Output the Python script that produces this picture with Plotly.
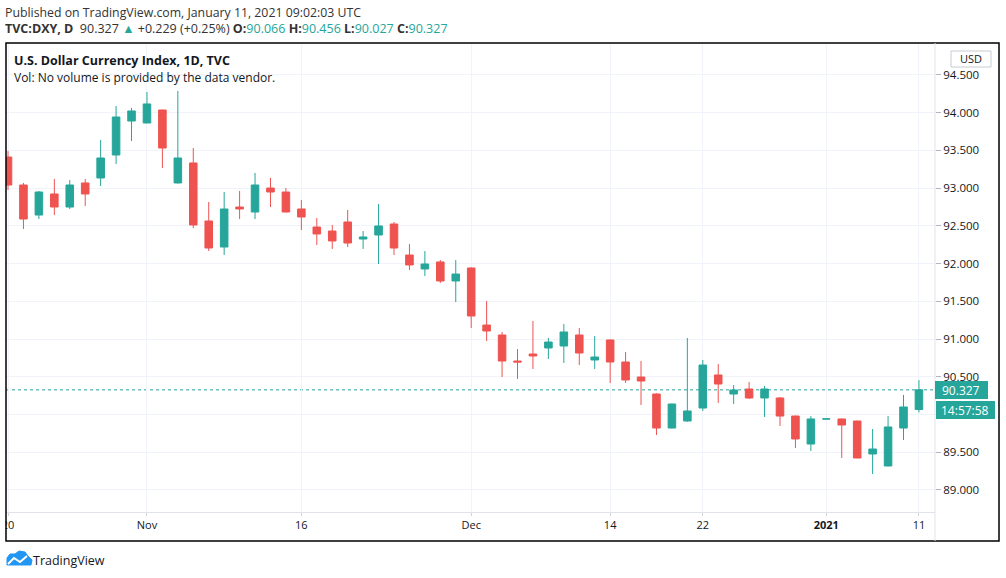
import pandas as pd
import plotly.graph_objects as go

# DXY daily candles, 20 Oct 2020 - 11 Jan 2021
dates = pd.bdate_range("2020-10-20", "2021-01-11").strftime("%Y-%m-%d").tolist()

opens = [93.413, 93.042, 92.644, 92.923, 92.750, 93.069, 93.135, 93.440, 93.890, 93.864,
         94.036, 93.069, 93.334, 92.565, 92.220, 92.750, 92.684, 93.002, 92.949, 92.724,
         92.485, 92.432, 92.552, 92.326, 92.379, 92.525, 92.114, 91.929, 92.022, 91.770,
         91.942, 91.186, 91.054, 90.709, 90.802, 90.882, 90.908, 91.054, 90.723, 90.988,
         90.696, 90.497, 90.272, 89.821, 89.914, 90.086, 90.524, 90.272, 90.338, 90.219,
         90.219, 89.980, 89.609, 89.941, 89.941, 89.914, 89.477, 89.318, 89.821, 90.066]
highs = [93.493, 93.069, 92.963, 93.122, 93.108, 93.122, 93.638, 94.089, 94.063, 94.275,
         94.040, 94.288, 93.532, 92.817, 92.949, 92.963, 93.201, 93.135, 93.002, 92.843,
         92.605, 92.512, 92.711, 92.432, 92.790, 92.552, 92.260, 92.167, 92.048, 92.048,
         91.950, 91.505, 91.094, 90.868, 91.240, 91.014, 91.200, 91.147, 91.041, 90.995,
         90.829, 90.709, 90.280, 90.145, 91.014, 90.723, 90.670, 90.391, 90.431, 90.378,
         90.232, 89.985, 89.980, 89.942, 89.945, 89.918, 89.808, 89.980, 90.259, 90.456]
lows = [92.976, 92.459, 92.591, 92.644, 92.724, 92.764, 93.029, 93.320, 93.625, 93.860,
        93.267, 93.060, 92.472, 92.167, 92.114, 92.591, 92.591, 92.750, 92.680, 92.446,
        92.247, 92.194, 92.220, 92.194, 91.995, 92.114, 91.915, 91.836, 91.743, 91.491,
        91.147, 90.974, 90.497, 90.471, 90.603, 90.736, 90.683, 90.656, 90.603, 90.418,
        90.418, 90.126, 89.729, 89.815, 89.905, 90.047, 90.153, 90.139, 90.206, 89.967,
        89.848, 89.556, 89.517, 89.941, 89.424, 89.420, 89.212, 89.312, 89.662, 90.027]
closes = [93.042, 92.591, 92.949, 92.750, 93.042, 92.923, 93.400, 93.943, 94.023, 94.116,
          93.532, 93.400, 92.512, 92.207, 92.724, 92.724, 93.042, 92.949, 92.684, 92.618,
          92.393, 92.300, 92.273, 92.353, 92.499, 92.207, 91.982, 91.995, 91.770, 91.862,
          91.306, 91.107, 90.709, 90.696, 90.776, 90.961, 91.094, 90.815, 90.762, 90.696,
          90.458, 90.444, 89.821, 90.139, 90.047, 90.656, 90.404, 90.325, 90.219, 90.338,
          89.980, 89.676, 89.941, 89.942, 89.861, 89.424, 89.543, 89.835, 90.100, 90.327]

tick_dates = ["2020-10-20", "2020-11-02", "2020-11-16", "2020-12-01",
              "2020-12-14", "2020-12-22", "2021-01-01", "2021-01-11"]
tick_text = ["20", "Nov", "16", "Dec", "14", "22", "<b>2021</b>", "11"]
price_ticks = [89.0, 89.5, 90.0, 90.5, 91.0, 91.5, 92.0, 92.5, 93.0, 93.5, 94.0, 94.5]
# 90.000 sits under the countdown label in the original, so its text is hidden
price_text = ["89.000", "89.500", "", "90.500", "91.000", "91.500", "92.000",
              "92.500", "93.000", "93.500", "94.000", "94.500"]

last_price = 90.327
countdown = "14:57:58"

UP = "#26a69a"
DOWN = "#ef5350"
TXT = "#131722"

W, H = 1006, 578
ML, MR, MT, MB = 6, 71, 43, 66
PW, PH = W - ML - MR, H - MT - MB


def px(x, y):
    # pixel -> paper coords
    return (x - ML) / PW, (H - MB - y) / PH


fig = go.Figure()
fig.add_trace(go.Candlestick(
    x=dates, open=opens, high=highs, low=lows, close=closes,
    increasing=dict(line=dict(color=UP, width=1), fillcolor=UP),
    decreasing=dict(line=dict(color=DOWN, width=1), fillcolor=DOWN),
    whiskerwidth=0, hoverinfo="skip", showlegend=False,
))

shapes = []
# last price dotted line
shapes.append(dict(type="line", xref="paper", yref="y", x0=0, x1=1,
                   y0=last_price, y1=last_price, layer="below",
                   line=dict(color=UP, width=1, dash="dot")))
# white strip left of the frame: the first date label is cut off there
wx0, wy0 = px(0, 540)
wx1, wy1 = px(5.5, 514)
shapes.append(dict(type="rect", xref="paper", yref="paper", x0=wx0, y0=wy0, x1=wx1, y1=wy1,
                   line=dict(width=0), fillcolor="white"))
# outer frame
x0, y0 = px(6, 541)
x1, y1 = px(999, 43)
shapes.append(dict(type="rect", xref="paper", yref="paper", x0=x0, y0=y0, x1=x1, y1=y1,
                   line=dict(color="#000000", width=1.5)))
# separator between plot and price scale
shapes.append(dict(type="line", xref="paper", yref="paper", x0=1, x1=1, y0=y0, y1=1,
                   line=dict(color="#e0e3eb", width=1)))
# USD box
ux0, uy0 = px(951, 67)
ux1, uy1 = px(991, 51)
shapes.append(dict(type="rect", xref="paper", yref="paper", x0=ux0, y0=uy0, x1=ux1, y1=uy1,
                   line=dict(color="#c8cbd3", width=1), fillcolor="white"))
# price label boxes
bx0, by0 = px(935, 399)
bx1, by1 = px(988, 381)
shapes.append(dict(type="rect", xref="paper", yref="paper", x0=bx0, y0=by0, x1=bx1, y1=by1,
                   line=dict(width=0), fillcolor=UP))
cx0, cy0 = px(936, 419)
cx1, cy1 = px(995, 401)
shapes.append(dict(type="rect", xref="paper", yref="paper", x0=cx0, y0=cy0, x1=cx1, y1=cy1,
                   line=dict(width=0), fillcolor=UP))

# TradingView cloud logo
cloud = [(7, 565), (31, 565), (32, 560), (28, 556), (25, 552), (19, 551), (15, 554),
         (10, 554), (7, 558)]
path = "M " + " L ".join("%f,%f" % px(a, b) for a, b in cloud) + " Z"
shapes.append(dict(type="path", xref="paper", yref="paper", path=path,
                   fillcolor="#2196f3", line=dict(color="#2196f3", width=1)))
zig = [(8, 564), (14, 558), (20, 562), (27, 556)]
path2 = "M " + " L ".join("%f,%f" % px(a, b) for a, b in zig)
shapes.append(dict(type="path", xref="paper", yref="paper", path=path2,
                   line=dict(color="white", width=2)))

annotations = []


def note(x, y, text, size=12, color=TXT, xanchor="left", family="Open Sans"):
    ax, ay = px(x, y)
    annotations.append(dict(xref="paper", yref="paper", x=ax, y=ay, text=text,
                            showarrow=False, xanchor=xanchor, yanchor="middle",
                            font=dict(size=size, color=color, family=family)))


note(3, 12, "Published on TradingView.com, January 11, 2021 09:02:03 UTC",
     size=12.3, color="#333333")
g = lambda s: "<span style='color:%s'>%s</span>" % (UP, s)
note(3, 29, "<b>TVC:DXY, D</b>  90.327 " + g("▲") + " +0.229 (+0.25%) "
     "<b>O:</b>" + g("90.066") + " <b>H:</b>" + g("90.456") +
     " <b>L:</b>" + g("90.027") + " <b>C:</b>" + g("90.327"), size=12.5, color="#333333")
note(12, 60, "<b>U.S. Dollar Currency Index, 1D, TVC</b>", size=12.5, color=TXT)
note(12, 77, "Vol: No volume is provided by the data vendor.", color=TXT)
note(971, 59, "USD", size=11, xanchor="center")
note(961, 390, "%.3f" % last_price, size=12, color="white", xanchor="center")
note(965, 410, countdown, size=12, color="white", xanchor="center")
note(31, 560, "TradingView", size=12.5, color="#131722")

fig.update_layout(
    template="none",
    width=W, height=H,
    margin=dict(l=ML, r=MR, t=MT, b=MB, autoexpand=False),
    paper_bgcolor="white", plot_bgcolor="white",
    font=dict(family="Open Sans", size=11, color=TXT),
    shapes=shapes, annotations=annotations,
    hovermode=False,
)
fig.update_xaxes(
    type="category", range=[-0.13, 60.04], rangeslider_visible=False,
    tickvals=tick_dates, ticktext=tick_text, automargin=False,
    showgrid=True, gridcolor="#f0f3fa", gridwidth=1,
    ticks="outside", ticklen=3, tickcolor="#d1d4dc",
    showline=True, linecolor="#e0e3eb", linewidth=1, zeroline=False,
    tickfont=dict(size=11, color=TXT), fixedrange=True,
)
fig.update_yaxes(
    side="right", range=[88.708, 94.924], automargin=False,
    tickvals=price_ticks, ticktext=price_text,
    showgrid=True, gridcolor="#f0f3fa", gridwidth=1,
    ticks="outside", ticklen=5, tickcolor="#b2b5be",
    showline=False, zeroline=False,
    tickfont=dict(size=11.5, color=TXT), fixedrange=True,
)

# the page body has a default 8px margin; drop it so the figure sits at the corner
fig.write_html("out.html", config={"displayModeBar": False},
               post_script="document.body.style.margin='0';")
